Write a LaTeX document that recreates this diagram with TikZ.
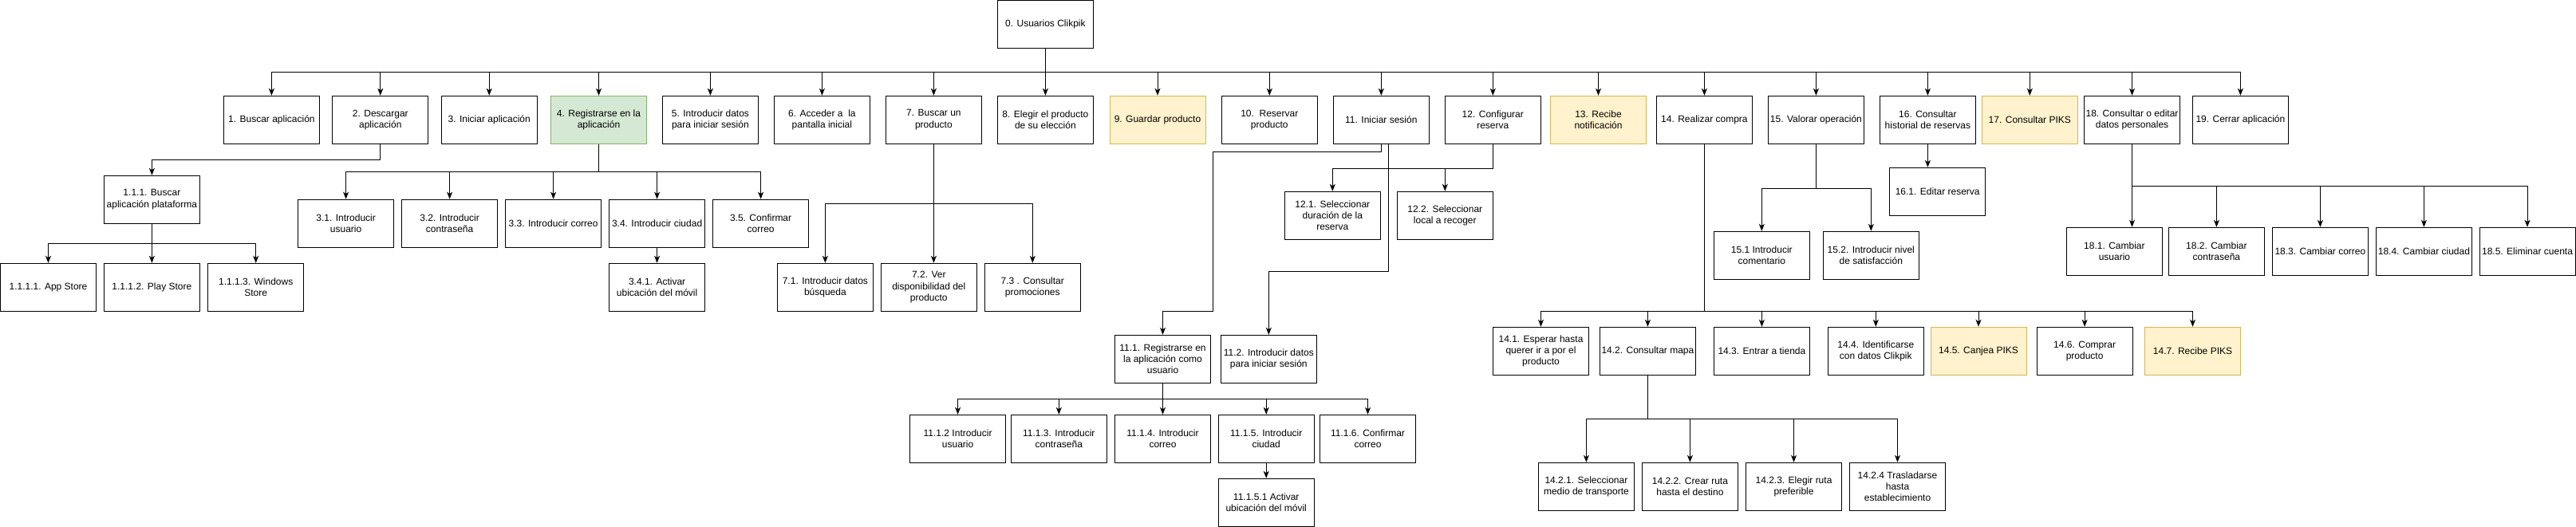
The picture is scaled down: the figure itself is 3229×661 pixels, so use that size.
\documentclass[tikz,border=0pt]{standalone}
\usepackage{fontspec}
\setmainfont{Liberation Sans}
\usetikzlibrary{arrows.meta}
\definecolor{greenfill}{HTML}{D5E8D4}
\definecolor{greenline}{HTML}{82B366}
\definecolor{yellowfill}{HTML}{FFF2CC}
\definecolor{yellowline}{HTML}{D6B656}
\begin{document}
\begin{tikzpicture}[x=1pt, y=-1pt,
	box/.style={draw, line width=1pt, minimum width=120pt, minimum height=60pt, inner sep=0pt, align=center, font=\fontsize{12}{14.4}\selectfont},
	greenbox/.style={box, draw=greenline, fill=greenfill},
	yellowbox/.style={box, draw=yellowline, fill=yellowfill},
	arr/.style={-{Stealth[length=9pt, width=7pt, inset=2.5pt]}, line width=1pt}]
			\useasboundingbox (0,0) rectangle (3229,661);
			\node[box] (n0) at (1310.4,30.5) {0. Usuarios Clikpik};
			\node[box] (n1) at (340.4,150.3) {1. Buscar aplicación};
			\node[box] (n2) at (476.8,150.3) {2. Descargar\\aplicación};
			\node[box] (n3) at (613.2,150.3) {3. Iniciar aplicación};
			\node[greenbox] (n4) at (750.5,150.3) {4. Registrarse en la\\aplicación};
			\node[box] (n5) at (890.4,150.3) {5. Introducir datos\\para iniciar sesión};
			\node[box] (n6) at (1030.4,150.3) {6. Acceder a~~la\\pantalla inicial};
			\node[box] (n7) at (1170.4,150.3) {7. Buscar un\\producto};
			\node[box] (n8) at (1310.4,150.3) {8. Elegir el producto\\de su elección};
			\node[yellowbox] (n9) at (1451,150.3) {9. Guardar producto};
			\node[box] (n10) at (1591.3,150.3) {10.~~Reservar\\producto};
			\node[box] (n11) at (1731.3,150.3) {11. Iniciar sesión};
			\node[box] (n12) at (1871.3,150.3) {12. Configurar\\reserva};
			\node[yellowbox] (n13) at (2003.5,150.3) {13. Recibe\\notificación};
			\node[box] (n14) at (2136.4,150.3) {14. Realizar compra};
			\node[box] (n15) at (2276.4,150.3) {15. Valorar operación};
			\node[box] (n16) at (2416.4,150.3) {16. Consultar\\historial de reservas};
			\node[yellowbox] (n17) at (2544.3,150.3) {17. Consultar PIKS};
			\node[box] (n18) at (2672.5,150.3) {18. Consultar o editar\\datos personales};
			\node[box] (n19) at (2808.4,150.3) {19. Cerrar aplicación};
			\node[box] (n1-1-1) at (190.4,250.3) {1.1.1. Buscar\\aplicación plataforma};
			\node[box] (n1-1-1-1) at (60.5,360.3) {1.1.1.1. App Store};
			\node[box] (n1-1-1-2) at (190.4,360.3) {1.1.1.2. Play Store};
			\node[box] (n1-1-1-3) at (320.7,360.3) {1.1.1.3. Windows\\Store};
			\node[box] (n3-1) at (433.6,280.2) {3.1. Introducir\\usuario};
			\node[box] (n3-2) at (563.6,280.2) {3.2. Introducir\\contraseña};
			\node[box] (n3-3) at (693.6,280.2) {3.3. Introducir correo};
			\node[box] (n3-4) at (823.6,280.2) {3.4. Introducir ciudad};
			\node[box] (n3-5) at (953.6,280.2) {3.5. Confirmar\\correo};
			\node[box] (n3-4-1) at (823.6,360.3) {3.4.1. Activar\\ubicación del móvil};
			\node[box] (n7-1) at (1034.4,360.3) {7.1. Introducir datos\\búsqueda};
			\node[box] (n7-2) at (1164.3,360.3) {7.2. Ver\\disponibilidad del\\producto};
			\node[box] (n7-3) at (1294.3,360.3) {7.3 . Consultar\\promociones};
			\node[box] (n11-1) at (1457.5,450.3) {11.1. Registrarse en\\la aplicación como\\usuario};
			\node[box] (n11-2) at (1590.3,450.3) {11.2. Introducir datos\\para iniciar sesión};
			\node[box] (n11-1-2) at (1200.6,550.3) {11.1.2 Introducir\\usuario};
			\node[box] (n11-1-3) at (1327.3,550.3) {11.1.3. Introducir\\contraseña};
			\node[box] (n11-1-4) at (1457.5,550.3) {11.1.4. Introducir\\correo};
			\node[box] (n11-1-5) at (1587.2,550.3) {11.1.5. Introducir\\ciudad};
			\node[box] (n11-1-6) at (1714.5,550.3) {11.1.6. Confirmar\\correo};
			\node[box] (n11-1-5-1) at (1587.2,630.3) {11.1.5.1 Activar\\ubicación del móvil};
			\node[box] (n12-1) at (1670.3,270.3) {12.1. Seleccionar\\duración de la\\reserva};
			\node[box] (n12-2) at (1811.3,270.3) {12.2. Seleccionar\\local a recoger};
			\node[box] (n14-1) at (1931.5,440.3) {14.1. Esperar hasta\\querer ir a por el\\producto};
			\node[box] (n14-2) at (2065.4,440.3) {14.2. Consultar mapa};
			\node[box] (n14-3) at (2208.4,440.3) {14.3. Entrar a tienda};
			\node[box] (n14-4) at (2351.3,440.3) {14.4. Identificarse\\con datos Clikpik};
			\node[yellowbox] (n14-5) at (2480,440.3) {14.5. Canjea PIKS};
			\node[box] (n14-6) at (2613.1,440.3) {14.6. Comprar\\producto};
			\node[yellowbox] (n14-7) at (2748.5,440.3) {14.7. Recibe PIKS};
			\node[box] (n14-2-1) at (1988.4,610.3) {14.2.1. Seleccionar\\medio de transporte};
			\node[box] (n14-2-2) at (2118.4,610.3) {14.2.2. Crear ruta\\hasta el destino};
			\node[box] (n14-2-3) at (2248.5,610.3) {14.2.3. Elegir ruta\\preferible};
			\node[box] (n14-2-4) at (2378.5,610.3) {14.2.4 Trasladarse\\hasta\\establecimiento};
			\node[box] (n15-1) at (2208.3,320.3) {15.1 Introducir\\comentario};
			\node[box] (n15-2) at (2345.3,320.3) {15.2. Introducir nivel\\de satisfacción};
			\node[box] (n16-1) at (2428.7,240.3) {16.1. Editar reserva};
			\node[box] (n18-1) at (2650.4,315.3) {18.1. Cambiar\\usuario};
			\node[box] (n18-2) at (2778.4,315.3) {18.2. Cambiar\\contraseña};
			\node[box] (n18-3) at (2908.4,315.3) {18.3. Cambiar correo};
			\node[box] (n18-4) at (3038.4,315.3) {18.4. Cambiar ciudad};
			\node[box] (n18-5) at (3168,315.3) {18.5. Eliminar cuenta};
			\draw[arr] (n0.south) -- ++(0,29.8) -| (n1.north);
			\draw[arr] (n0.south) -- ++(0,29.8) -| (n2.north);
			\draw[arr] (n0.south) -- ++(0,29.8) -| (n3.north);
			\draw[arr] (n0.south) -- ++(0,29.8) -| (n4.north);
			\draw[arr] (n0.south) -- ++(0,29.8) -| (n5.north);
			\draw[arr] (n0.south) -- ++(0,29.8) -| (n6.north);
			\draw[arr] (n0.south) -- ++(0,29.8) -| (n7.north);
			\draw[arr] (n0.south) -- (n8.north);
			\draw[arr] (n0.south) -- ++(0,29.8) -| (n9.north);
			\draw[arr] (n0.south) -- ++(0,29.8) -| (n10.north);
			\draw[arr] (n0.south) -- ++(0,29.8) -| (n11.north);
			\draw[arr] (n0.south) -- ++(0,29.8) -| (n12.north);
			\draw[arr] (n0.south) -- ++(0,29.8) -| (n13.north);
			\draw[arr] (n0.south) -- ++(0,29.8) -| (n14.north);
			\draw[arr] (n0.south) -- ++(0,29.8) -| (n15.north);
			\draw[arr] (n0.south) -- ++(0,29.8) -| (n16.north);
			\draw[arr] (n0.south) -- ++(0,29.8) -| (n17.north);
			\draw[arr] (n0.south) -- ++(0,29.8) -| (n18.north);
			\draw[arr] (n0.south) -- ++(0,29.8) -| (n19.north);
			\draw[arr] (n2.south) -- ++(0,20) -| (n1-1-1.north);
			\draw[arr] (n1-1-1.south) -- ++(0,25) -| (n1-1-1-1.north);
			\draw[arr] (n1-1-1.south) -- (n1-1-1-2.north);
			\draw[arr] (n1-1-1.south) -- ++(0,25) -| (n1-1-1-3.north);
			\draw[arr] (n4.south) -- ++(0,35) -| (n3-1.north);
			\draw[arr] (n4.south) -- ++(0,35) -| (n3-2.north);
			\draw[arr] (n4.south) -- ++(0,35) -| (n3-3.north);
			\draw[arr] (n4.south) -- ++(0,35) -| (n3-4.north);
			\draw[arr] (n4.south) -- ++(0,35) -| (n3-5.north);
			\draw[arr] (n3-4.south) -- (n3-4-1.north);
			\draw[arr] (n7.south) -- ++(0,75) -| (n7-1.north);
			\draw[arr] (n7.south) -- (n7.south |- n7-2.north);
			\draw[arr] (n7.south) -- ++(0,75) -| (n7-3.north);
			\draw[arr] (n11.south) -- ++(0,10) -- ++(-211,0) -- ++(0,200) -| (n11-1.north);
			\draw[arr] ([xshift=9pt]n11.south) -- ++(0,160) -| (n11-2.north);
			\draw[arr] (n11-1.south) -- ++(0,20) -| (n11-1-2.north);
			\draw[arr] (n11-1.south) -- ++(0,20) -| (n11-1-3.north);
			\draw[arr] (n11-1.south) -- (n11-1-4.north);
			\draw[arr] (n11-1.south) -- ++(0,20) -| (n11-1-5.north);
			\draw[arr] (n11-1.south) -- ++(0,20) -| (n11-1-6.north);
			\draw[arr] (n11-1-5.south) -- (n11-1-5-1.north);
			\draw[arr] (n12.south) -- ++(0,31) -| (n12-1.north);
			\draw[arr] (n12.south) -- ++(0,31) -| (n12-2.north);
			\draw[arr] (n14.south) -- ++(0,210) -| (n14-1.north);
			\draw[arr] (n14.south) -- ++(0,210) -| (n14-2.north);
			\draw[arr] (n14.south) -- ++(0,210) -| (n14-3.north);
			\draw[arr] (n14.south) -- ++(0,210) -| (n14-4.north);
			\draw[arr] (n14.south) -- ++(0,210) -| (n14-5.north);
			\draw[arr] (n14.south) -- ++(0,210) -| (n14-6.north);
			\draw[arr] (n14.south) -- ++(0,210) -| (n14-7.north);
			\draw[arr] (n14-2.south) -- ++(0,55) -| (n14-2-1.north);
			\draw[arr] (n14-2.south) -- ++(0,55) -| (n14-2-2.north);
			\draw[arr] (n14-2.south) -- ++(0,55) -| (n14-2-3.north);
			\draw[arr] (n14-2.south) -- ++(0,55) -| (n14-2-4.north);
			\draw[arr] (n15.south) -- ++(0,56) -| (n15-1.north);
			\draw[arr] (n15.south) -- ++(0,56) -| (n15-2.north);
			\draw[arr] (n16.south) -- (n16.south |- n16-1.north);
			\draw[arr] (n18.south) -- (n18.south |- n18-1.north);
			\draw[arr] (n18.south) -- ++(0,53) -| (n18-2.north);
			\draw[arr] (n18.south) -- ++(0,53) -| (n18-3.north);
			\draw[arr] (n18.south) -- ++(0,53) -| (n18-4.north);
			\draw[arr] (n18.south) -- ++(0,53) -| (n18-5.north);
		\end{tikzpicture}
\end{document}
